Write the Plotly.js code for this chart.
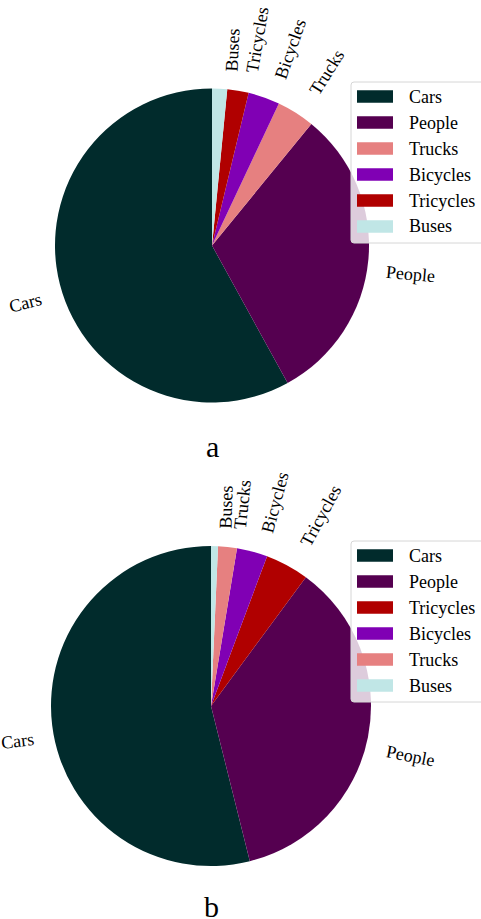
<!DOCTYPE html>
<html>
<head>
<meta charset="utf-8">
<script src="https://cdn.plot.ly/plotly-3.0.1.min.js"></script>
<style>
  html, body { margin: 0; padding: 0; background: #ffffff; }
  #chart { width: 481px; height: 919px; }
</style>
</head>
<body>
<div id="chart"></div>
<script>
// Share of each object category (percent), panel a
const labelsA = ['Cars', 'People', 'Trucks', 'Bicycles', 'Tricycles', 'Buses'];
const valuesA = [58.0, 31.1, 3.9, 3.25, 2.2, 1.55];

// Share of each object category (percent), panel b
const labelsB = ['Cars', 'People', 'Tricycles', 'Bicycles', 'Trucks', 'Buses'];
const valuesB = [53.9, 36.0, 4.4, 3.1, 1.9, 0.7];

const captions = ['a', 'b'];

// Colour of every category, shared by both panels
const categoryColors = {
  Cars: '#012b2c',
  People: '#550050',
  Trucks: '#e68080',
  Bicycles: '#8000b4',
  Tricycles: '#b00000',
  Buses: '#c0e6e6'
};

const W = 481, H = 919;
const FONT = 'Liberation Serif, Times New Roman, serif';

// Pixel geometry of the two panels
const panels = [
  { labels: labelsA, values: valuesA, caption: captions[0],
    cx: 212, cy: 245.5, r: 157, legendTop: 82, legendBottom: 243, captionY: 446 },
  { labels: labelsB, values: valuesB, caption: captions[1],
    cx: 211, cy: 706, r: 160, legendTop: 541, legendBottom: 702, captionY: 906 }
];

const px = x => x / W;
const py = y => 1 - y / H;

const traces = [];
const shapes = [];
const annotations = [];

function normAngle(a) {
  a = ((a % 360) + 360) % 360;
  if (a > 180) a -= 360;
  return a;
}

panels.forEach(p => {
  const total = p.values.reduce((s, v) => s + v, 0);

  // Plotly lays the first slice clockwise of the start angle when going
  // counterclockwise, so turn the pie back by that slice to start it at 12 o'clock.
  traces.push({
    type: 'pie',
    labels: p.labels,
    values: p.values,
    sort: false,
    direction: 'counterclockwise',
    rotation: normAngle(-360 * p.values[0] / total),
    textinfo: 'none',
    hoverinfo: 'label+percent',
    marker: { colors: p.labels.map(l => categoryColors[l]), line: { width: 0 } },
    domain: { x: [px(p.cx - p.r), px(p.cx + p.r)], y: [py(p.cy + p.r), py(p.cy - p.r)] },
    showlegend: false
  });

  // Slice labels, placed just outside the rim and turned along the radius
  let cum = 0;
  p.values.forEach((v, i) => {
    const thDeg = 90 + 360 * (cum + v / 2) / total;
    cum += v;
    const th = thDeg * Math.PI / 180;
    const c = Math.cos(th), s = Math.sin(th);
    const xt = p.cx + 1.1 * p.r * c;
    const yt = p.cy - 1.1 * p.r * s;
    const rot = thDeg + (c > 0 ? 0 : 180);
    annotations.push({
      xref: 'paper', yref: 'paper', x: px(xt), y: py(yt),
      xanchor: c > 0 ? 'left' : 'right',
      yanchor: s > 0 ? 'bottom' : 'top',
      textangle: normAngle(-rot),
      text: p.labels[i], showarrow: false, borderpad: 0,
      font: { family: FONT, size: 18, color: '#000000' }
    });
  });

  // Legend frame
  const L = 351, R = 492, T = p.legendTop, B = p.legendBottom, k = 3;
  shapes.push({
    type: 'path', xref: 'paper', yref: 'paper', layer: 'above',
    path: `M${px(L + k)},${py(T)} L${px(R - k)},${py(T)} Q${px(R)},${py(T)} ${px(R)},${py(T + k)} ` +
          `L${px(R)},${py(B - k)} Q${px(R)},${py(B)} ${px(R - k)},${py(B)} ` +
          `L${px(L + k)},${py(B)} Q${px(L)},${py(B)} ${px(L)},${py(B - k)} ` +
          `L${px(L)},${py(T + k)} Q${px(L)},${py(T)} ${px(L + k)},${py(T)} Z`,
    fillcolor: 'rgba(255,255,255,0.8)',
    line: { color: '#d6d6d6', width: 1 }
  });

  // Legend entries
  p.labels.forEach((lab, i) => {
    const yc = T + 14.5 + 26 * i;
    shapes.push({
      type: 'rect', xref: 'paper', yref: 'paper', layer: 'above',
      x0: px(357), x1: px(393), y0: py(yc + 6.3), y1: py(yc - 6.3),
      fillcolor: categoryColors[lab], line: { width: 0 }
    });
    annotations.push({
      xref: 'paper', yref: 'paper', x: px(408), y: py(yc),
      xanchor: 'left', yanchor: 'middle', text: lab, showarrow: false, borderpad: 0,
      font: { family: FONT, size: 18, color: '#000000' }
    });
  });

  // Panel caption
  annotations.push({
    xref: 'paper', yref: 'paper', x: px(p.cx), y: py(p.captionY),
    xanchor: 'center', yanchor: 'middle', text: p.caption, showarrow: false, borderpad: 0,
    font: { family: FONT, size: 30, color: '#000000' }
  });
});

const layout = {
  width: W, height: H,
  margin: { l: 0, r: 0, t: 0, b: 0, pad: 0 },
  paper_bgcolor: '#ffffff',
  plot_bgcolor: '#ffffff',
  showlegend: false,
  shapes: shapes,
  annotations: annotations
};

Plotly.newPlot('chart', traces, layout, { displayModeBar: false, staticPlot: true });
</script>
</body>
</html>
